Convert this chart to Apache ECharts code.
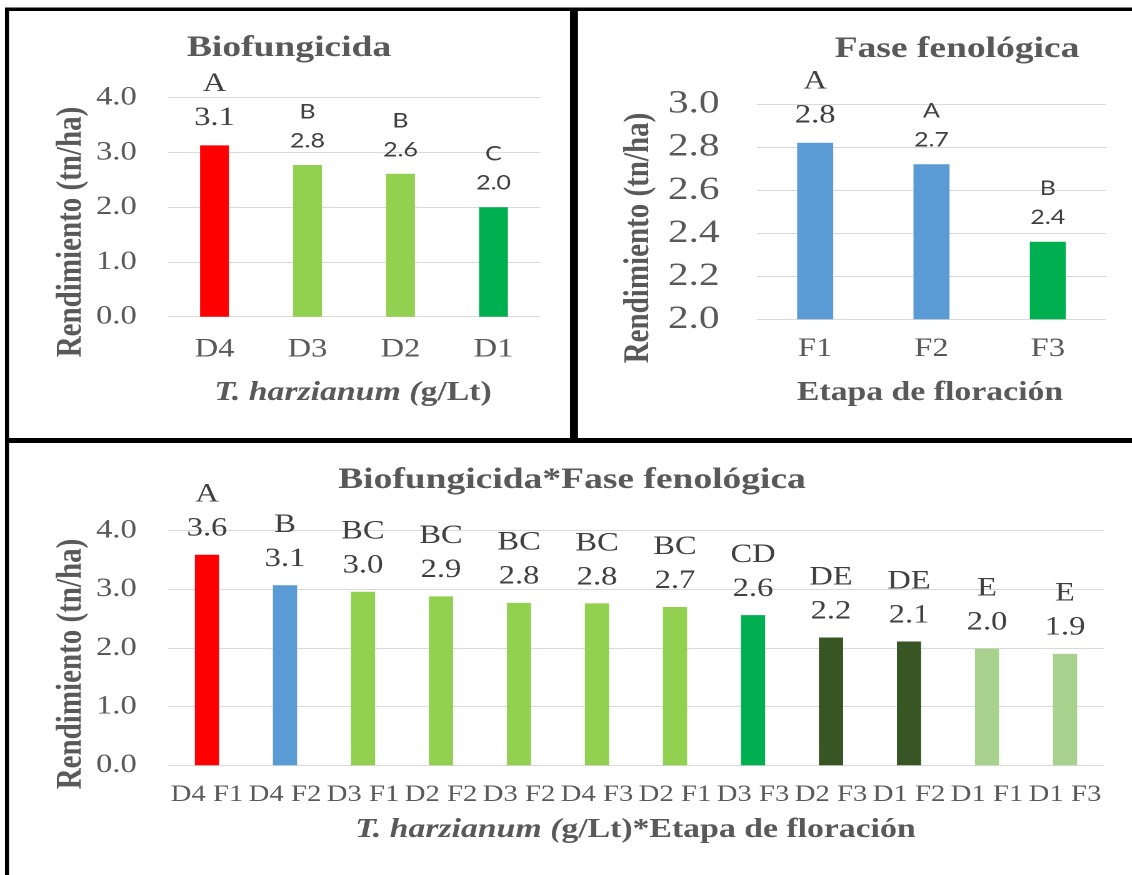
<!DOCTYPE html>
<html>
<head>
<meta charset="utf-8">
<title>Rendimiento</title>
<script src="https://cdn.jsdelivr.net/npm/echarts@6.0.0/dist/echarts.min.js"></script>
<style>
  html, body { margin: 0; padding: 0; background: #ffffff; overflow: hidden; }
  /* the figure is laid out on a narrower board and widened 1.25x */
  #chart { width: 905.6px; height: 875px; transform: scaleX(1.25); transform-origin: 0 0; }
</style>
</head>
<body>
<div id="chart"></div>
<script>
// ---- data ----
const bioCategories = ['D4', 'D3', 'D2', 'D1'];
const bioYield = [3.13, 2.77, 2.61, 2.00];
const bioGroups = ['A', 'B', 'B', 'C'];
const bioTicks = [0, 1, 2, 3, 4];

const faseCategories = ['F1', 'F2', 'F3'];
const faseYield = [2.82, 2.72, 2.36];
const faseGroups = ['A', 'A', 'B'];
const faseTicks = [2.0, 2.2, 2.4, 2.6, 2.8, 3.0];

const interCategories = ['D4 F1', 'D4 F2', 'D3 F1', 'D2 F2', 'D3 F2', 'D4 F3',
                         'D2 F1', 'D3 F3', 'D2 F3', 'D1 F2', 'D1 F1', 'D1 F3'];
const interYield = [3.59, 3.07, 2.96, 2.88, 2.77, 2.76, 2.70, 2.56, 2.18, 2.11, 1.99, 1.90];
const interGroups = ['A', 'B', 'BC', 'BC', 'BC', 'BC', 'BC', 'CD', 'DE', 'DE', 'E', 'E'];
const interTicks = [0, 1, 2, 3, 4];

// ---- colours ----
const RED = '#FF0000', LIME = '#92D050', GREEN = '#00B050', BLUE = '#5B9BD5',
      DARK = '#375623', PALE = '#A9D18E';
const bioColors = [RED, LIME, LIME, GREEN];
const faseColors = [BLUE, BLUE, GREEN];
const interColors = [RED, BLUE, LIME, LIME, LIME, LIME, LIME, GREEN, DARK, DARK, PALE, PALE];

const SERIF = 'Liberation Serif, Times New Roman, serif';
const SANS = 'Lato, Open Sans, sans-serif';
const GREY = '#595959';
const LABEL = '#404040';

function step(ticks) { return +(ticks[1] - ticks[0]).toFixed(6); }

function yAxis(gridIndex, ticks, fontSize, margin) {
  return {
    type: 'value', gridIndex,
    min: ticks[0], max: ticks[ticks.length - 1], interval: step(ticks),
    axisLine: { show: false }, axisTick: { show: false },
    axisLabel: { color: GREY, fontFamily: SERIF, fontSize, margin,
                 formatter: v => v.toFixed(1) },
    splitLine: { lineStyle: { color: '#D9D9D9', width: 1 } }
  };
}

function xAxis(gridIndex, cats, fontSize, margin) {
  return {
    type: 'category', gridIndex, data: cats,
    axisLine: { show: false }, axisTick: { show: false },
    axisLabel: { color: GREY, fontFamily: SERIF, fontSize, margin, interval: 0 },
    splitLine: { show: false }
  };
}

// rich label: group letter above the yield value
function barSeries(idx, values, groups, colors, serifBars, dist) {
  return {
    type: 'bar', xAxisIndex: idx, yAxisIndex: idx,
    barWidth: '31%',
    data: values,
    itemStyle: { color: p => colors[p.dataIndex] },
    label: {
      show: true, position: 'top', distance: dist,
      formatter: p => {
        const s = serifBars(p.dataIndex) ? 's' : 'n';
        return '{l' + s + '|' + groups[p.dataIndex] + '}\n{v' + s + '|' + p.value.toFixed(1) + '}';
      },
      rich: {
        ls: { fontFamily: SERIF, fontSize: 26, color: LABEL, lineHeight: 40 },
        vs: { fontFamily: SERIF, fontSize: 26, color: LABEL, lineHeight: 28 },
        ln: { fontFamily: SANS, fontSize: 20, color: LABEL, lineHeight: 36 },
        vn: { fontFamily: SANS, fontSize: 20, color: LABEL, lineHeight: 22 }
      }
    }
  };
}

function label(x, y, text, font, rot, rich) {
  const style = { text, font, fill: GREY,
                  align: 'center', verticalAlign: 'middle',
                  textAlign: 'center', textVerticalAlign: 'middle' };
  if (rich) style.rich = rich;
  return { type: 'text', x, y, rotation: rot || 0, style, z: 10 };
}

const titleFont = 'bold 30px ' + SERIF;
const yNameFont = 'bold 29px ' + SERIF;
const xNameFont = 'bold 27px ' + SERIF;
const speciesRich = {
  i: { fontFamily: SERIF, fontSize: 27, fontWeight: 'bold', fontStyle: 'italic', fill: GREY, color: GREY },
  b: { fontFamily: SERIF, fontSize: 27, fontWeight: 'bold', fill: GREY, color: GREY }
};

const frame = [
  { type: 'rect', shape: { x: 4, y: 7.5, width: 902, height: 3.5 }, style: { fill: '#000' } },
  { type: 'rect', shape: { x: 4, y: 7.5, width: 3.2, height: 870 }, style: { fill: '#000' } },
  { type: 'rect', shape: { x: 456, y: 7.5, width: 6.4, height: 435 }, style: { fill: '#000' } },
  { type: 'rect', shape: { x: 4, y: 438, width: 902, height: 5 }, style: { fill: '#000' } }
];

const chart = echarts.init(document.getElementById('chart'), null,
                           { renderer: 'canvas', devicePixelRatio: 2 });
chart.setOption({
  backgroundColor: '#ffffff',
  animation: false,
  grid: [
    { left: 134.4, top: 97.7, width: 297.6, height: 219 },
    { left: 605.6, top: 104, width: 279.2, height: 215.3 },
    { left: 134.4, top: 530.7, width: 748.8, height: 234.6 }
  ],
  xAxis: [
    xAxis(0, bioCategories, 26, 20),
    xAxis(1, faseCategories, 26, 17),
    xAxis(2, interCategories, 23, 18)
  ],
  yAxis: [
    yAxis(0, bioTicks, 26, 25),
    yAxis(1, faseTicks, 33, 30),
    yAxis(2, interTicks, 26, 25)
  ],
  series: [
    barSeries(0, bioYield, bioGroups, bioColors, i => i === 0, 13),
    barSeries(1, faseYield, faseGroups, faseColors, i => i === 0, 13),
    barSeries(2, interYield, interGroups, interColors, () => true, 12)
  ],
  graphic: frame.concat([
    label(231.2, 48, 'Biofungicida', titleFont),
    label(56.8, 232, 'Rendimiento (tn/ha)', yNameFont, Math.PI / 2),
    label(282.4, 393, '{i|T. harzianum (}{b|g/Lt)}', xNameFont, 0, speciesRich),

    label(765.6, 49, 'Fase fenológica', titleFont),
    label(511.2, 238, 'Rendimiento (tn/ha)', yNameFont, Math.PI / 2),
    label(744, 393, 'Etapa de floración', xNameFont),

    label(457.6, 480, 'Biofungicida*Fase fenológica', titleFont),
    label(57.2, 664, 'Rendimiento (tn/ha)', yNameFont, Math.PI / 2),
    label(508.4, 830, '{i|T. harzianum (}{b|g/Lt)*Etapa de floración}', xNameFont, 0, speciesRich)
  ])
});
</script>
</body>
</html>
